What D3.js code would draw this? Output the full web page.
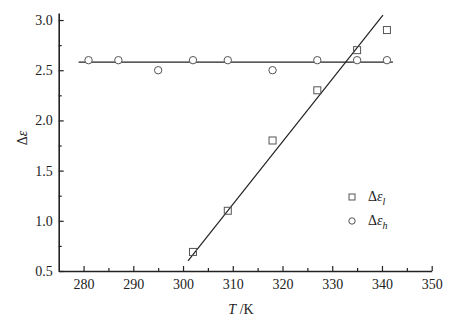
<!DOCTYPE html>
<html>
<head>
<meta charset="utf-8">
<script src="https://cdn.jsdelivr.net/npm/d3@7"></script>
<style>
    body { margin: 0; background: #fff; }
    svg text { font-family: "Liberation Serif", "Times New Roman", Times, "DejaVu Serif", serif !important; fill: #222; }
</style>
</head>
<body>
<div id="chart"></div>
<script>
// Δε_l (squares)
let lowT = [302, 309, 318, 327, 335, 341];
let lowVals = [0.69, 1.1, 1.8, 2.3, 2.7, 2.9];

// Δε_h (circles)
let highT = [281, 287, 295, 302, 309, 318, 327, 335, 341];
let highVals = [2.6, 2.6, 2.5, 2.6, 2.6, 2.5, 2.6, 2.6, 2.6];

// fitted lines
let fitLowT = [301, 340.2];
let fitLowVals = [0.6, 3.05];
let fitHighT = [279, 342.2];
let fitHighVals = [2.58, 2.58];

let xMajor = [280, 290, 300, 310, 320, 330, 340, 350];
let xMinor = [285, 295, 305, 315, 325, 335, 345];
let yMajor = [0.5, 1.0, 1.5, 2.0, 2.5, 3.0];
let yMinor = [0.75, 1.25, 1.75, 2.25, 2.75];

let width = 456, height = 321;
let serif = "'Liberation Serif', 'Times New Roman', serif";

let svg = d3.select("#chart").append("svg")
    .attr("width", width)
    .attr("height", height)
    .style("font-family", serif);

let x = d3.scaleLinear().domain([275, 350]).range([58.7, 431.7]);
let y = d3.scaleLinear().domain([0.5, 3.07]).range([271, 13]);

// minor ticks first
svg.append("g")
    .attr("transform", "translate(0," + y(0.5) + ")")
    .call(d3.axisBottom(x).tickValues(xMinor).tickSize(-3).tickSizeOuter(0).tickFormat(""))
    .call(g => g.select(".domain").remove())
    .selectAll("line").attr("stroke", "#222").attr("stroke-width", 1.2);

svg.append("g")
    .attr("transform", "translate(" + x(275) + ",0)")
    .call(d3.axisLeft(y).tickValues(yMinor).tickSize(-3).tickSizeOuter(0).tickFormat(""))
    .call(g => g.select(".domain").remove())
    .selectAll("line").attr("stroke", "#222").attr("stroke-width", 1.2);

// x axis
let xAxisG = svg.append("g")
    .attr("transform", "translate(0," + y(0.5) + ")")
    .call(d3.axisBottom(x).tickValues(xMajor).tickSize(-5).tickSizeOuter(0).tickPadding(8).tickFormat(d3.format("d")));
xAxisG.attr("font-family", null).attr("font-size", null);
xAxisG.select(".domain").attr("stroke", "#222").attr("stroke-width", 1.6);
xAxisG.selectAll("line").attr("stroke", "#222").attr("stroke-width", 1.2);
xAxisG.selectAll("text").style("font-size", "14px").style("font-family", serif).attr("fill", "#222");

// y axis
let yAxisG = svg.append("g")
    .attr("transform", "translate(" + x(275) + ",0)")
    .call(d3.axisLeft(y).tickValues(yMajor).tickSize(-5).tickSizeOuter(0).tickPadding(6).tickFormat(d3.format(".1f")));
yAxisG.attr("font-family", null).attr("font-size", null);
yAxisG.select(".domain").attr("stroke", "#222").attr("stroke-width", 1.6);
yAxisG.selectAll("line").attr("stroke", "#222").attr("stroke-width", 1.2);
yAxisG.selectAll("text").style("font-size", "14px").style("font-family", serif).attr("fill", "#222");

// axis titles
let xTitle = svg.append("text")
    .attr("x", 241)
    .attr("y", 314)
    .attr("text-anchor", "middle")
    .style("font-size", "14px");
xTitle.append("tspan").attr("font-style", "italic").text("T");
xTitle.append("tspan").text(" /K");

let yTitle = svg.append("text")
    .attr("transform", "translate(27,138) rotate(-90)")
    .attr("text-anchor", "middle")
    .style("font-size", "14px");
yTitle.append("tspan").text("Δ");
yTitle.append("tspan").attr("font-style", "italic").text("ε");

// fit lines
let line = d3.line().x(d => x(d[0])).y(d => y(d[1]));

svg.append("path")
    .datum(d3.zip(fitHighT, fitHighVals))
    .attr("d", line)
    .attr("fill", "none")
    .attr("stroke", "#222")
    .attr("stroke-width", 1.2);

svg.append("path")
    .datum(d3.zip(fitLowT, fitLowVals))
    .attr("d", line)
    .attr("fill", "none")
    .attr("stroke", "#222")
    .attr("stroke-width", 1.2);

// markers
svg.selectAll(".circ")
    .data(d3.zip(highT, highVals))
    .enter()
    .append("circle")
    .attr("class", "circ")
    .attr("cx", d => x(d[0]))
    .attr("cy", d => y(d[1]))
    .attr("r", 3.7)
    .attr("fill", "#fff")
    .attr("stroke", "#555")
    .attr("stroke-width", 1);

svg.selectAll(".sq")
    .data(d3.zip(lowT, lowVals))
    .enter()
    .append("rect")
    .attr("class", "sq")
    .attr("x", d => x(d[0]) - 3.5)
    .attr("y", d => y(d[1]) - 3.5)
    .attr("width", 7)
    .attr("height", 7)
    .attr("fill", "none")
    .attr("stroke", "#555")
    .attr("stroke-width", 1);

// legend
let legend = svg.append("g").attr("transform", "translate(352,197)");

legend.append("rect")
    .attr("x", -3).attr("y", -3)
    .attr("width", 6).attr("height", 6)
    .attr("fill", "none").attr("stroke", "#555");

legend.append("circle")
    .attr("cx", 0).attr("cy", 24).attr("r", 3.2)
    .attr("fill", "none").attr("stroke", "#555");

let l1 = legend.append("text").attr("x", 16).attr("y", 4).style("font-size", "14px");
l1.append("tspan").text("Δ");
l1.append("tspan").attr("font-style", "italic").text("ε");
l1.append("tspan").attr("font-style", "italic").style("font-size", "10px").attr("dy", 4).text("l");

let l2 = legend.append("text").attr("x", 16).attr("y", 28).style("font-size", "14px");
l2.append("tspan").text("Δ");
l2.append("tspan").attr("font-style", "italic").text("ε");
l2.append("tspan").attr("font-style", "italic").style("font-size", "10px").attr("dy", 4).text("h");
</script>
</body>
</html>
